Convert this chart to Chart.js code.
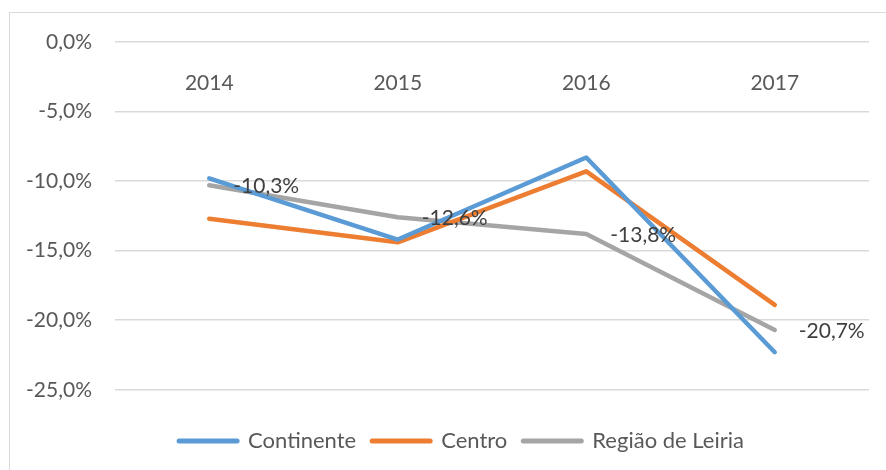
<!DOCTYPE html>
<html>
<head>
<meta charset="utf-8">
<script src="https://cdn.jsdelivr.net/npm/chart.js@4/dist/chart.umd.min.js"></script>
<style>
  html, body { margin: 0; padding: 0; background: #fff; }
  #wrap { position: relative; width: 886px; height: 470px; overflow: hidden; }
  #frame { position: absolute; left: 9px; top: 12px; width: 900px; height: 500px; border: 1px solid #d9d9d9; }
  canvas { position: absolute; left: 0; top: 0; }
</style>
</head>
<body>
<div id="wrap">
  <div id="frame"></div>
  <canvas id="chart" width="886" height="470"></canvas>
</div>
<script>
const years = ['2014', '2015', '2016', '2017']
const continente = [-9.8, -14.2, -8.3, -22.3]
const centro = [-12.7, -14.4, -9.3, -18.9]
const leiria = [-10.3, -12.6, -13.8, -20.7]
const yTicks = [0, -5, -10, -15, -20, -25]

const FONT = 'Lato'
const fmt = (v) => v.toFixed(1).replace('.', ',') + '%'

// labels only on the Leiria series, to the right of each point
const pointLabels = {
  id: 'pointLabels',
  afterDatasetsDraw(chart) {
    const ctx = chart.ctx
    const meta = chart.getDatasetMeta(2)
    ctx.save()
    ctx.font = '21px ' + FONT
    ctx.fillStyle = '#404040'
    ctx.textAlign = 'left'
    ctx.textBaseline = 'middle'
    meta.data.forEach((el, i) => {
      ctx.fillText(fmt(leiria[i]), el.x + 24, el.y + 1)
    })
    ctx.restore()
  }
}

// the y labels reach left of the padded axis box, so widen the box after layout
const widenY = {
  id: 'widenY',
  afterLayout(chart) { chart.scales.y.left = 0 }
}

const line = (label, data, color) => ({
  label: label,
  data: data,
  borderColor: color,
  backgroundColor: color,
  borderWidth: 4.5,
  borderJoinStyle: 'round',
  borderCapStyle: 'round',
  pointRadius: 0,
  tension: 0
})

new Chart(document.getElementById('chart'), {
  type: 'line',
  data: {
    labels: years,
    datasets: [
      line('Continente', continente, '#5b9bd5'),
      line('Centro', centro, '#ed7d31'),
      line('Região de Leiria', leiria, '#a5a5a5')
    ]
  },
  options: {
    responsive: false,
    animation: false,
    layout: { padding: { left: 54, right: 17, top: 42, bottom: 8 } },
    plugins: {
      legend: {
        position: 'bottom',
        title: { display: true, text: '', font: { size: 1 }, padding: { top: 12, bottom: 11 } },
        labels: {
          usePointStyle: true,
          pointStyle: 'line',
          pointStyleWidth: 58,
          padding: 16,
          color: '#595959',
          font: { family: FONT, size: 22 },
          generateLabels: (chart) => Chart.defaults.plugins.legend.labels.generateLabels(chart)
            .map((l) => Object.assign(l, { lineWidth: 5, lineCap: 'round' }))
        }
      },
      tooltip: { enabled: false }
    },
    scales: {
      x: {
        position: { y: 0 },
        offset: true,
        grid: { display: false },
        border: { display: false },
        ticks: { color: '#595959', padding: 21, font: { family: FONT, size: 21 } }
      },
      y: {
        min: -25,
        max: 0,
        afterFit(scale) { scale.width = 61 },
        afterBuildTicks(scale) { scale.ticks = yTicks.map((v) => ({ value: v })) },
        grid: { color: '#d9d9d9', lineWidth: 1.5, drawTicks: false },
        border: { display: false },
        ticks: {
          color: '#595959',
          padding: 23,
          font: { family: FONT, size: 21 },
          callback: (v) => fmt(v)
        }
      }
    }
  },
  plugins: [pointLabels, widenY]
})
</script>
</body>
</html>
